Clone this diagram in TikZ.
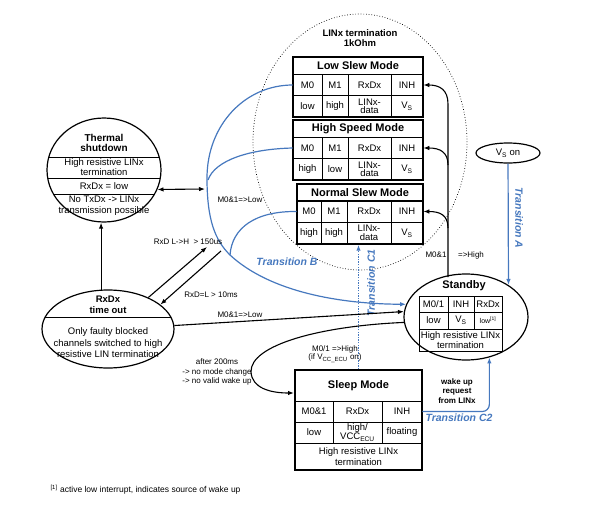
\documentclass[tikz,border=0pt]{standalone}
\usepackage{fontspec}
\setmainfont{Liberation Sans}
\usetikzlibrary{arrows.meta,shapes.geometric}
\definecolor{transblue}{RGB}{70,120,190}
\tikzset{
  stateshape/.style={draw, ellipse, line width=1.2pt, inner sep=0pt},
  tblframe/.style={draw, line width=1.4pt, inner sep=0pt},
  tblcell/.style={draw, line width=0.6pt, inner sep=0pt, minimum height=21.5pt, align=center, font=\fontsize{9.5}{8.5}\selectfont},
  headcell/.style={draw, line width=0.6pt, inner sep=0pt, minimum height=17pt, font=\fontsize{11}{11}\selectfont\bfseries},
  heading/.style={inner sep=0pt, align=center, font=\fontsize{9.5}{10.5}\selectfont\bfseries},
  bodytext/.style={inner sep=0pt, align=center, font=\fontsize{9.5}{11.5}\selectfont},
  lbl/.style={inner sep=0pt, align=center, font=\fontsize{8}{9.5}\selectfont},
  transline/.style={transblue, line width=1.2pt},
  translbl/.style={transblue, inner sep=0pt, font=\fontsize{10.5}{10.5}\selectfont\bfseries\itshape},
}
\begin{document}
\begin{tikzpicture}[x=1pt, y=-1pt, >={Latex[length=6pt,width=4.5pt]}, line width=1.1pt]
\useasboundingbox (0,0) rectangle (590,509);

% LIN termination group
\node[draw, ellipse, dotted, line width=0.7pt, minimum width=214pt, minimum height=256pt] (lingroup) at (360,142) {};
\node[heading] (lintitle) at (360,38) {LINx termination\\1kOhm};

% Low Slew Mode
\node[headcell, minimum width=130pt] (lsTitle) at (358,65.5) {Low Slew Mode};
\node[tblcell, minimum width=29pt] (lsM0) at (307.5,85) {M0};
\node[tblcell, minimum width=26pt] (lsM1) at (335,85) {M1};
\node[tblcell, minimum width=43pt] (lsRxD) at (369.5,85) {RxDx};
\node[tblcell, minimum width=32pt] (lsINH) at (407,85) {INH};
\node[tblcell, minimum width=29pt] (lsM0v) at (307.5,106.5) {low};
\node[tblcell, minimum width=26pt] (lsM1v) at (335,106.5) {high};
\node[tblcell, minimum width=43pt] (lsRxDv) at (369.5,106.5) {LINx-\\data};
\node[tblcell, minimum width=32pt] (lsINHv) at (407,106.5) {V\textsubscript{S}};
\node[tblframe, minimum width=130pt, minimum height=60pt] (ls) at (358,87) {};

% High Speed Mode
\node[headcell, minimum width=130pt] (hsTitle) at (358,128.5) {High Speed Mode};
\node[tblcell, minimum width=29pt] (hsM0) at (307.5,148) {M0};
\node[tblcell, minimum width=26pt] (hsM1) at (335,148) {M1};
\node[tblcell, minimum width=43pt] (hsRxD) at (369.5,148) {RxDx};
\node[tblcell, minimum width=32pt] (hsINH) at (407,148) {INH};
\node[tblcell, minimum width=29pt] (hsM0v) at (307.5,169.5) {high};
\node[tblcell, minimum width=26pt] (hsM1v) at (335,169.5) {low};
\node[tblcell, minimum width=43pt] (hsRxDv) at (369.5,169.5) {LINx-\\data};
\node[tblcell, minimum width=32pt] (hsINHv) at (407,169.5) {V\textsubscript{S}};
\node[tblframe, minimum width=130pt, minimum height=60pt] (hs) at (358,150) {};

% Normal Slew Mode
\node[headcell, minimum width=126pt] (nsTitle) at (360,192.5) {Normal Slew Mode};
\node[tblcell, minimum width=24pt] (nsM0) at (309,211.5) {M0};
\node[tblcell, minimum width=26pt] (nsM1) at (334,211.5) {M1};
\node[tblcell, minimum width=44pt] (nsRxD) at (369,211.5) {RxDx};
\node[tblcell, minimum width=32pt] (nsINH) at (407,211.5) {INH};
\node[tblcell, minimum width=24pt] (nsM0v) at (309,233) {high};
\node[tblcell, minimum width=26pt] (nsM1v) at (334,233) {high};
\node[tblcell, minimum width=44pt] (nsRxDv) at (369,233) {LINx-\\data};
\node[tblcell, minimum width=32pt] (nsINHv) at (407,233) {V\textsubscript{S}};
\node[tblframe, minimum width=126pt, minimum height=60pt] (ns) at (360,214) {};

% Thermal shutdown
\node[stateshape, minimum width=114pt, minimum height=104pt] (thermal) at (104,170) {};
\begin{scope}
  \clip (104,170) ellipse [x radius=57, y radius=52];
  \draw[line width=0.8pt] (40,157) -- (170,157) (40,178) -- (170,178) (40,194) -- (170,194);
\end{scope}
\node[heading, font=\fontsize{10}{10.5}\selectfont\bfseries] (thTitle) at (104,143) {Thermal\\shutdown};
\node[bodytext, font=\fontsize{9.5}{10}\selectfont] (thTerm) at (104,167.5) {High resistive LINx\\termination};
\node[bodytext] (thRxD) at (104,186) {RxDx = low};
\node[bodytext, font=\fontsize{9.5}{11}\selectfont] (thTx) at (104,206) {No TxDx -> LINx\\transmission possible};

% RxDx time out
\node[stateshape, minimum width=132pt, minimum height=78pt] (timeout) at (108,329) {};
\begin{scope}
  \clip (108,329) ellipse [x radius=66, y radius=39];
  \draw[line width=0.8pt] (30,317) -- (190,317);
\end{scope}
\node[heading] (toTitle) at (108,305) {RxDx\\time out};
\node[bodytext] (toBody) at (108,343) {Only faulty blocked\\channels switched to high\\resistive LIN termination};

% V_S on
\node[stateshape, minimum width=64pt, minimum height=20pt, font=\fontsize{9.5}{10}\selectfont] (vson) at (508,153) {V\textsubscript{S} on};

% Standby
\node[stateshape, minimum width=124pt, minimum height=86pt] (standby) at (466,317) {};
\node[heading, font=\fontsize{11}{11}\selectfont\bfseries] (sbTitle) at (464,286) {Standby};
\node[tblcell, minimum width=29pt, minimum height=16pt] (sbM0) at (433.5,304) {M0/1};
\node[tblcell, minimum width=26pt, minimum height=16pt] (sbINH) at (461,304) {INH};
\node[tblcell, minimum width=28pt, minimum height=16pt] (sbRxD) at (488,304) {RxDx};
\node[tblcell, minimum width=29pt, minimum height=17pt] (sbM0v) at (433.5,320.5) {low};
\node[tblcell, minimum width=26pt, minimum height=17pt] (sbINHv) at (461,320.5) {V\textsubscript{S}};
\node[tblcell, minimum width=28pt, minimum height=17pt, font=\fontsize{7}{7}\selectfont] (sbRxDv) at (488,320.5) {low\textsuperscript{[1]}};
\node[tblcell, minimum width=83pt, minimum height=22pt, font=\fontsize{9.5}{10}\selectfont] (sbTerm) at (460.5,340) {High resistive LINx\\termination};

% Sleep Mode
\node[headcell, minimum width=127pt, minimum height=31pt] (slTitle) at (358.5,385.5) {Sleep Mode};
\node[tblcell, minimum width=38pt, minimum height=21pt] (slM0) at (314,411.5) {M0\&1};
\node[tblcell, minimum width=49pt, minimum height=21pt] (slRxD) at (357.5,411.5) {RxDx};
\node[tblcell, minimum width=40pt, minimum height=21pt] (slINH) at (402,411.5) {INH};
\node[tblcell, minimum width=38pt, minimum height=21pt] (slM0v) at (314,432.5) {low};
\node[tblcell, minimum width=49pt, minimum height=21pt] (slRxDv) at (357.5,432.5) {high/\\VCC\textsubscript{ECU}};
\node[tblcell, minimum width=40pt, minimum height=21pt] (slINHv) at (402,432.5) {floating};
\node[tblcell, minimum width=127pt, minimum height=27pt, font=\fontsize{9.5}{11}\selectfont] (slTerm) at (358.5,456.5) {High resistive LINx\\termination};
\node[tblframe, minimum width=127pt, minimum height=100pt] (sleep) at (358.5,420) {};

% INH wake lines
\coordinate (inhfork) at (448,277);
\draw[->] (inhfork) -- (448,104) .. controls (448,90) and (440,85) .. (lsINH.east);
\draw[->] (448,165) .. controls (448,152) and (440,148) .. (hsINH.east);
\draw[->] (448,228) .. controls (448,215) and (440,211.5) .. (nsINH.east);
\node[lbl] (hiA) at (436,255) {M0\&1};
\node[lbl] (hiB) at (471,255) {=>High};

% Transition B
\draw[transline,->] (lsM0.west) .. controls (245,85) and (207,125) .. (207,178)
  .. controls (207,220) and (215,240) .. (230,255) .. controls (270,292) and (340,304) .. (standby.168);
\draw[transline] (hsM0.west) .. controls (250,149) and (215,160) .. (208,180);
\draw[transline] (nsM0.west) .. controls (255,211) and (232,228) .. (230,255);
\node[lbl] (lowB) at (240,200) {M0\&1=>Low};
\node[translbl] (transB) at (287,262) {Transition B};

% Transition A
\draw[transline,->] (vson) -- (standby.37);
\node[translbl, rotate=-90] (transA) at (519,218) {Transition A};

% Transition C1
\draw[transline, dash pattern=on 1.4pt off 1.2pt, ->] (sleep.north) -- (sleep.north |- ns.south);
\node[translbl, rotate=90] (transC1) at (371,283) {Transition C1};

% Transition C2
\draw[transline, ->, rounded corners=7pt] (slINH.east) -| (standby.-60);
\node[translbl] (transC2) at (459,418) {Transition C2};
\node[lbl, font=\fontsize{8}{9.5}\selectfont\bfseries] (wakelbl) at (457,391) {wake up\\request\\from LINx};

% thermal / time out
\coordinate (grpleft) at (205,189);
\draw[<->] (thermal.-20) -- (grpleft);
\draw[->] (timeout.100) -- (timeout.100 |- thermal.south);
\coordinate (rxdup) at (207,247);
\coordinate (rxddown) at (221,251);
\draw[->] (timeout.38) -- (rxdup);
\draw[->] (rxddown) -- (timeout.25);
\node[lbl] (lhlbl) at (188,242) {RxD L->H \ > 150us};
\node[lbl] (lowlbl) at (211,295) {RxD=L > 10ms};

% to standby / to sleep
\draw[->] (timeout.3) -- (standby.175);
\node[lbl] (lowC) at (240,315) {M0\&1=>Low};
\coordinate (sleepin) at (294,393);
\draw[->] (standby.185) .. controls (320,326) and (250,345) .. (251,372) .. controls (252,388) and (270,393) .. (sleepin);
\node[lbl] (sleeplbl) at (335,349) {M0/1 =>High};
\node[lbl] (vcclbl) at (335,358) {(if V\textsubscript{CC\_ECU} on)};
\node[lbl] (afterlbl) at (217,372) {after 200ms\\-> no mode change\\-> no valid wake up};

% footnote
\node[anchor=west, inner sep=0pt, font=\fontsize{8.5}{10}\selectfont] (note) at (50,490) {\textsuperscript{[1]} active low interrupt, indicates source of wake up};
\end{tikzpicture}
\end{document}
